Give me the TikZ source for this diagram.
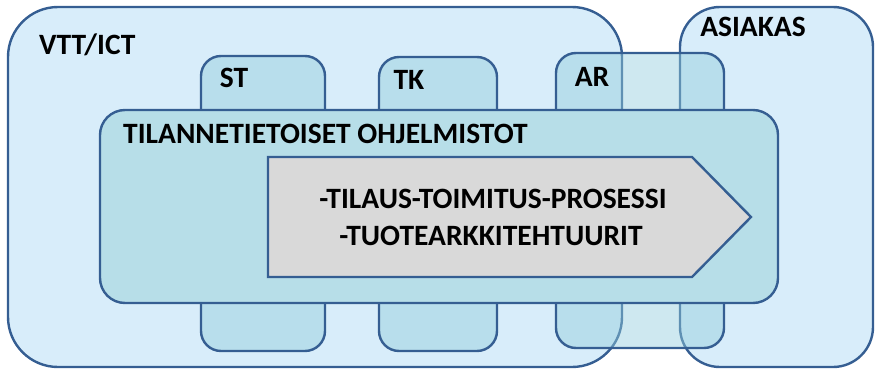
\documentclass[tikz,border=0pt]{standalone}
\usepackage{fontspec}
\setmainfont{Carlito}
\definecolor{bordercol}{HTML}{355E92}
\definecolor{outerfill}{HTML}{D8EDFA}
\definecolor{mainfill}{HTML}{B7DEE8}
\definecolor{tabfill}{HTML}{93CDDD}
\definecolor{arrowfill}{HTML}{D9D9D9}
\tikzset{
  bigbox/.style={draw=bordercol, line width=2.4pt, fill=outerfill, rounded corners=#1},
  tabbox/.style={draw=bordercol, line width=2.4pt, fill=tabfill, fill opacity=0.45, rounded corners=20pt},
  mainbox/.style={draw=bordercol, line width=2.4pt, fill=mainfill, rounded corners=25pt},
  arrowbox/.style={draw=bordercol, line width=2.4pt, fill=arrowfill, line join=miter},
  lbl/.style={inner sep=0pt, anchor=base, font=\fontsize{29.5}{34}\selectfont\bfseries, text=black},
}
\begin{document}
\begin{tikzpicture}[x=1pt, y=-1pt]
\useasboundingbox (0,0) rectangle (876,369);
% outer organisations
\draw[bigbox=50pt] (8,7) rectangle (622,367);
\draw[bigbox=40pt] (680,7) rectangle (873,367);
% tabs
\draw[tabbox] (201,56) rectangle (325,351);
\draw[tabbox] (379,57) rectangle (497,351);
\draw[tabbox] (556,53) rectangle (724,348);
% main box
\draw[mainbox] (100,110) rectangle (778,303);
% arrow
\draw[arrowbox] (268,157) -- (692,157) -- (751,217) -- (692,277) -- (268,277) -- cycle;
% labels
\node[lbl, anchor=base west] (vtt) at (39,55) {VTT/ICT};
\node[lbl] (st) at (234,88) {ST};
\node[lbl] (tk) at (409,90) {TK};
\node[lbl] (ar) at (592,87) {AR};
\node[lbl] (asiakas) at (753,37) {ASIAKAS};
\node[lbl, anchor=base west] (tilanne) at (123,143) {TILANNETIETOISET OHJELMISTOT};
\node[lbl] (l1) at (493,208) {-TILAUS-TOIMITUS-PROSESSI};
\node[lbl] (l2) at (491,245) {-TUOTEARKKITEHTUURIT};
\end{tikzpicture}
\end{document}
